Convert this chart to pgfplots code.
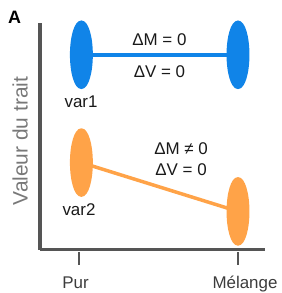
\documentclass[border=0pt]{standalone}
\usepackage{pgfplots}
\pgfplotsset{compat=1.18}
\usepackage{fontspec}
\setmainfont{Liberation Sans}
\definecolor{cblue}{RGB}{16,132,232}
\definecolor{corange}{RGB}{255,163,72}
\definecolor{axisgray}{RGB}{85,85,85}
\definecolor{labgray}{RGB}{120,120,120}
\definecolor{tickgray}{RGB}{60,60,60}
\begin{document}
\begin{tikzpicture}[x=1bp,y=1bp]
\path[use as bounding box] (0,0) rectangle (282,293);
\node[anchor=base, font=\fontsize{18}{20}\selectfont\bfseries] at (14.5,270) {A};
\begin{axis}[
  at={(40bp,43bp)}, anchor=south west,
  scale only axis, width=225bp, height=227bp,
  xmin=-0.2453, xmax=1.1698, ymin=0, ymax=10,
  clip=false,
  axis lines=left,
  axis line style={-, line width=3bp, color=axisgray},
  xtick={0,1}, xticklabels={Pur\hspace*{7bp}, \hspace*{14bp}Mélange},
  ytick=\empty,
  tick align=outside,
  major tick length=13bp,
  xtick style={line width=2.5bp, color=axisgray, yshift=-2bp},
  xticklabel style={font=\fontsize{17}{20}\selectfont, text=tickgray, yshift=-10bp},
  ylabel={Valeur du trait},
  ylabel style={font=\fontsize{21}{24}\selectfont, text=labgray, at={(axis description cs:-0.0885,0.48)}, anchor=center},
]
\addplot[cblue, line width=3.5bp, mark=*, mark size=9.7bp,
  mark options={yscale=3.35, draw=none, fill=cblue}]
  coordinates {(0.015,8.6) (1,8.6)};
\addplot[corange, line width=3.5bp, mark=*, mark size=9.7bp,
  mark options={yscale=3.35, draw=none, fill=corange}]
  coordinates {(0.015,3.85) (1,1.70)};
\begin{scope}[every node/.style={font=\fontsize{17}{20}\selectfont, text=black!90, anchor=base}]
\node at (axis cs:0.506,9.03) {ΔM = 0};
\node at (axis cs:0.506,7.62) {ΔV = 0};
\node at (axis cs:0.013,6.26) {var1};
\node at (axis cs:0.642,4.19) {ΔM ≠ 0};
\node at (axis cs:0.642,3.30) {ΔV = 0};
\node at (axis cs:0.0,1.54) {var2};
\end{scope}
\end{axis}
\end{tikzpicture}
\end{document}
